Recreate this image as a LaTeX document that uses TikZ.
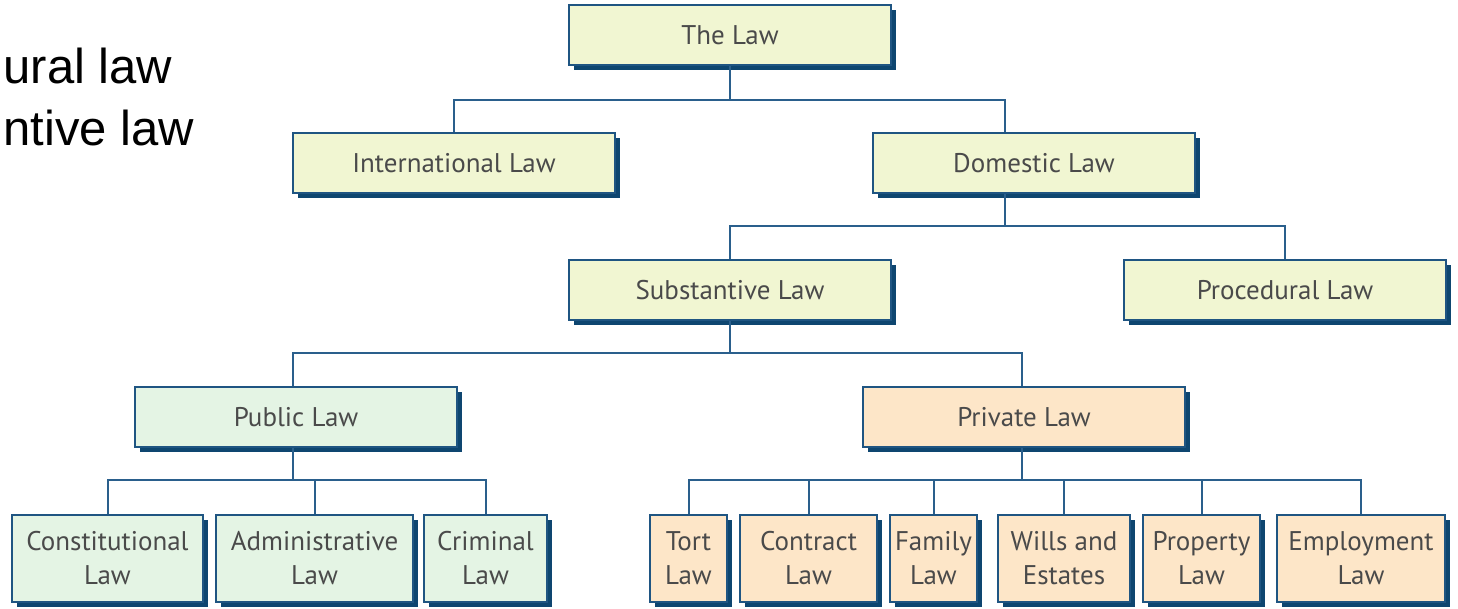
\documentclass[tikz,border=0pt]{standalone}
\usepackage{fontspec}
\setmainfont{PT Sans}
\newfontfamily\arialfont{Liberation Sans}
\usetikzlibrary{shadows}
\definecolor{boxblue}{HTML}{1F5582}
\definecolor{shadowblue}{HTML}{0E4670}
\definecolor{linkblue}{HTML}{2A5F8C}
\definecolor{yellowfill}{HTML}{F1F6D2}
\definecolor{greenfill}{HTML}{E4F4E4}
\definecolor{peachfill}{HTML}{FDE6C8}
\definecolor{textgray}{HTML}{4A4A4A}
\begin{document}
\begin{tikzpicture}[x=1pt,y=-1pt,
  lawbox/.style={draw=boxblue, line width=1.5pt, inner sep=0pt, align=center,
    font=\fontsize{27}{34}\selectfont, text=textgray,
    drop shadow={shadow xshift=4.5pt, shadow yshift=-4.5pt, fill=shadowblue, opacity=1}},
  bigbox/.style={lawbox, minimum width=322pt, minimum height=60pt},
  smallbox/.style={lawbox, minimum height=87pt},
  conn/.style={draw=linkblue, line width=2pt},
  bigtext/.style={anchor=base west, font=\arialfont\fontsize{49}{58}\selectfont, text=black}]
\useasboundingbox (0,0) rectangle (1458,608);

% partial text at left
\node[bigtext] (t1) at (0,83) {ural law};
\node[bigtext] (t2) at (0,145) {ntive law};

% boxes
\node[bigbox, fill=yellowfill] (law) at (730,35) {The Law};
\node[bigbox, fill=yellowfill] (intl) at (454,163) {International Law};
\node[bigbox, fill=yellowfill] (dom) at (1034,163) {Domestic Law};
\node[bigbox, fill=yellowfill] (subst) at (730,290) {Substantive Law};
\node[bigbox, fill=yellowfill] (proc) at (1285,290) {Procedural Law};
\node[bigbox, fill=greenfill] (public) at (296,417) {Public Law};
\node[bigbox, fill=peachfill] (private) at (1024,417) {Private Law};

\node[smallbox, fill=greenfill, minimum width=191pt] (const) at (107.5,558.5) {Constitutional\\Law};
\node[smallbox, fill=greenfill, minimum width=197pt] (admin) at (314.5,558.5) {Administrative\\Law};
\node[smallbox, fill=greenfill, minimum width=123pt] (crim) at (485.5,558.5) {Criminal\\Law};

\node[smallbox, fill=peachfill, minimum width=77pt] (tort) at (688.5,558.5) {Tort\\Law};
\node[smallbox, fill=peachfill, minimum width=137pt] (contract) at (808.5,558.5) {Contract\\Law};
\node[smallbox, fill=peachfill, minimum width=87pt] (family) at (933.5,558.5) {Family\\Law};
\node[smallbox, fill=peachfill, minimum width=132pt] (wills) at (1064,558.5) {Wills and\\Estates};
\node[smallbox, fill=peachfill, minimum width=117pt] (property) at (1201.5,558.5) {Property\\Law};
\node[smallbox, fill=peachfill, minimum width=168pt] (employ) at (1361,558.5) {Employment\\Law};

% connectors
\draw[conn] (law.south) -- (law.south |- 0,100);
\draw[conn] (intl.north) -- (intl.north |- 0,100) -- (1005,100) -- (dom.north -| 1005,0);
\draw[conn] (dom.south -| 1005,0) -- (1005,226);
\draw[conn] (subst.north) -- (subst.north |- 0,226) -- (proc.north |- 0,226) -- (proc.north);
\draw[conn] (subst.south) -- (subst.south |- 0,353);
\draw[conn] (public.north -| 293,0) -- (293,353) -- (1022,353) -- (private.north -| 1022,0);
\draw[conn] (public.south -| 293,0) -- (293,480);
\draw[conn] (const.north) -- (const.north |- 0,480) -- (crim.north |- 0,480) -- (crim.north);
\draw[conn] (admin.north) -- (admin.north |- 0,480);
\draw[conn] (private.south -| 1022,0) -- (1022,480);
\draw[conn] (tort.north) -- (tort.north |- 0,480) -- (employ.north |- 0,480) -- (employ.north);
\draw[conn] (contract.north) -- (contract.north |- 0,480);
\draw[conn] (family.north) -- (family.north |- 0,480);
\draw[conn] (wills.north) -- (wills.north |- 0,480);
\draw[conn] (property.north) -- (property.north |- 0,480);
\end{tikzpicture}
\end{document}
